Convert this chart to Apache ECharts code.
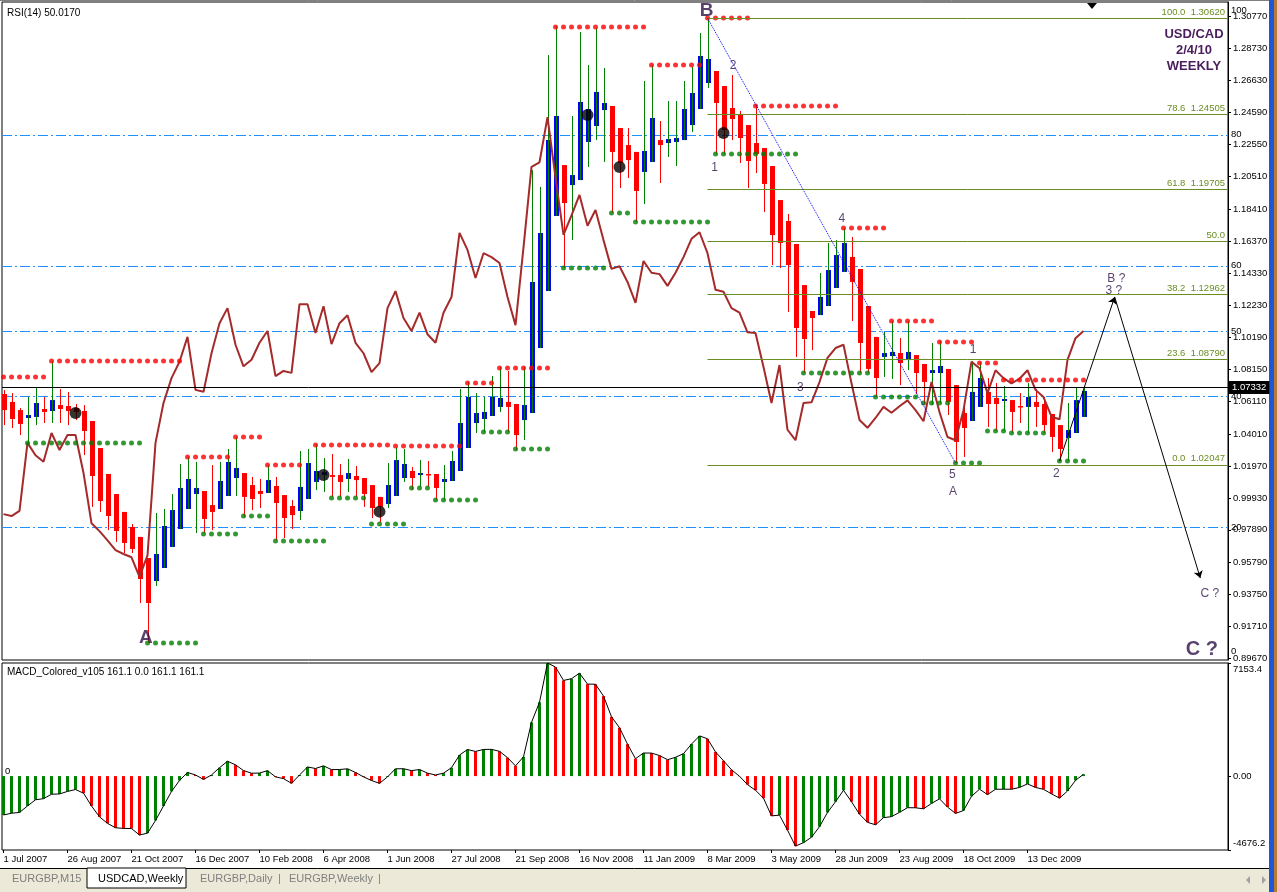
<!DOCTYPE html>
<html>
<head>
<meta charset="utf-8">
<title>USDCAD, Weekly</title>
<script src="https://cdn.jsdelivr.net/npm/echarts@6/dist/echarts.min.js"></script>
<style>
  html, body { margin: 0; padding: 0; background: #fff; }
  #chart { width: 1277px; height: 892px; }
</style>
</head>
<body>
<div id="chart"></div>
<script>
// weekly bars, index 0 = week of 1 Jul 2007
const dateTicks = ['1 Jul 2007', '26 Aug 2007', '21 Oct 2007', '16 Dec 2007', '10 Feb 2008', '6 Apr 2008',
  '1 Jun 2008', '27 Jul 2008', '21 Sep 2008', '16 Nov 2008', '11 Jan 2009', '8 Mar 2009', '3 May 2009',
  '28 Jun 2009', '23 Aug 2009', '18 Oct 2009', '13 Dec 2009'];
const priceTicks = [1.30770, 1.28730, 1.26630, 1.24590, 1.22550, 1.20510, 1.18410, 1.16370, 1.14330, 1.12230,
  1.10190, 1.08150, 1.06110, 1.04010, 1.01970, 0.99930, 0.97890, 0.95790, 0.93750, 0.91710, 0.89670];
const rsiTicks = [0, 20, 40, 50, 60, 80, 100];
const rsiLevels = [20, 40, 50, 60, 80];
const macdTicks = [7153.4, 0, -4676.2];
const bid = 1.07332;

// open, high, low, close
const ohlc = [
  [1.0658, 1.0683, 1.0459, 1.0555], [1.0607, 1.0664, 1.0440, 1.0498], [1.0555, 1.0568, 1.0395, 1.0466],
  [1.0504, 1.0639, 1.0344, 1.0523], [1.0511, 1.0696, 1.0459, 1.0600], [1.0562, 1.0639, 1.0472, 1.0543],
  [1.0549, 1.0869, 1.0472, 1.0619], [1.0587, 1.0690, 1.0472, 1.0562], [1.0581, 1.0671, 1.0459, 1.0549],
  [1.0568, 1.0594, 1.0491, 1.0543], [1.0549, 1.0587, 1.0267, 1.0421], [1.0485, 1.0485, 0.9935, 1.0133],
  [1.0312, 1.0312, 0.9903, 0.9973], [1.0146, 1.0146, 0.9787, 0.9877], [1.0018, 1.0018, 0.9711, 0.9781],
  [0.9903, 0.9903, 0.9640, 0.9704], [0.9807, 0.9826, 0.9640, 0.9666], [0.9743, 0.9743, 0.9320, 0.9474],
  [0.9608, 0.9608, 0.9064, 0.9320], [0.9461, 0.9896, 0.9429, 0.9634], [0.9544, 0.9922, 0.9544, 0.9813],
  [0.9679, 1.0018, 0.9679, 0.9915], [0.9794, 1.0210, 0.9794, 1.0056], [0.9922, 1.0255, 0.9922, 1.0114],
  [1.0018, 1.0223, 0.9768, 1.0056], [1.0037, 1.0037, 0.9768, 0.9858], [0.9947, 1.0203, 0.9787, 0.9903],
  [0.9922, 1.0223, 0.9922, 1.0101], [1.0005, 1.0306, 1.0005, 1.0223], [1.0120, 1.0383, 1.0005, 1.0184],
  [1.0152, 1.0152, 0.9871, 0.9999], [1.0075, 1.0127, 0.9915, 0.9986], [1.0037, 1.0114, 0.9928, 1.0018],
  [1.0024, 1.0203, 1.0024, 1.0107], [1.0069, 1.0127, 0.9723, 0.9960], [1.0011, 1.0011, 0.9736, 0.9864],
  [0.9941, 0.9979, 0.9794, 0.9883], [0.9909, 1.0293, 0.9851, 1.0063], [0.9986, 1.0306, 0.9986, 1.0216],
  [1.0095, 1.0338, 1.0043, 1.0165], [1.0139, 1.0248, 1.0031, 1.0159], [1.0139, 1.0274, 0.9999, 1.0127],
  [1.0139, 1.0210, 0.9999, 1.0095], [1.0114, 1.0242, 1.0031, 1.0152], [1.0133, 1.0197, 0.9999, 1.0107],
  [1.0120, 1.0120, 0.9935, 1.0018], [1.0075, 1.0075, 0.9864, 0.9928], [0.9999, 0.9999, 0.9832, 0.9935],
  [0.9954, 1.0216, 0.9928, 1.0075], [1.0005, 1.0319, 1.0005, 1.0235], [1.0120, 1.0306, 1.0095, 1.0210],
  [1.0165, 1.0191, 1.0043, 1.0120], [1.0139, 1.0235, 1.0063, 1.0152], [1.0146, 1.0229, 1.0063, 1.0139],
  [1.0146, 1.0146, 0.9979, 1.0056], [1.0095, 1.0203, 0.9979, 1.0114], [1.0101, 1.0293, 1.0101, 1.0229],
  [1.0165, 1.0690, 1.0165, 1.0472], [1.0312, 1.0735, 1.0312, 1.0639], [1.0472, 1.0664, 1.0408, 1.0536],
  [1.0498, 1.0639, 1.0415, 1.0543], [1.0517, 1.0773, 1.0517, 1.0639], [1.0575, 1.0831, 1.0543, 1.0632],
  [1.0607, 1.0805, 1.0415, 1.0575], [1.0594, 1.0594, 1.0299, 1.0395], [1.0491, 1.0831, 1.0363, 1.0587],
  [1.0536, 1.2091, 1.0536, 1.1375], [1.0952, 1.1983, 1.0952, 1.1688], [1.1317, 1.2827, 1.1317, 1.2283],
  [1.1797, 1.3013, 1.1797, 1.2437], [1.2123, 1.2123, 1.1464, 1.1880], [1.1995, 1.2437, 1.1643, 1.2059],
  [1.2027, 1.2975, 1.2027, 1.2527], [1.2271, 1.2763, 1.2111, 1.2482], [1.2373, 1.3000, 1.2283, 1.2591],
  [1.2475, 1.2744, 1.2143, 1.2520], [1.2501, 1.2501, 1.1816, 1.2207], [1.2360, 1.2360, 1.1976, 1.2136],
  [1.2251, 1.2360, 1.2040, 1.2155], [1.2207, 1.2207, 1.1759, 1.1957], [1.2079, 1.2661, 1.1874, 1.2213],
  [1.2143, 1.2763, 1.2143, 1.2424], [1.2283, 1.2405, 1.2008, 1.2251], [1.2264, 1.2533, 1.2175, 1.2290],
  [1.2271, 1.2533, 1.2117, 1.2296], [1.2283, 1.2661, 1.2283, 1.2482], [1.2379, 1.2751, 1.2335, 1.2584],
  [1.2482, 1.2968, 1.2482, 1.2821], [1.2648, 1.3064, 1.2616, 1.2802], [1.2725, 1.2725, 1.2194, 1.2520],
  [1.2629, 1.2629, 1.2194, 1.2347], [1.2488, 1.2699, 1.2283, 1.2418], [1.2450, 1.2469, 1.2136, 1.2296],
  [1.2379, 1.2379, 1.1976, 1.2149], [1.2264, 1.2507, 1.2072, 1.2194], [1.2232, 1.2232, 1.1823, 1.2002],
  [1.2117, 1.2117, 1.1483, 1.1675], [1.1899, 1.1899, 1.1464, 1.1624], [1.1765, 1.1810, 1.1183, 1.1483],
  [1.1618, 1.1618, 1.0895, 1.1080], [1.1355, 1.1355, 1.0792, 1.1010], [1.1189, 1.1189, 1.0939, 1.1144],
  [1.1163, 1.1432, 1.1163, 1.1279], [1.1221, 1.1624, 1.1221, 1.1451], [1.1336, 1.1643, 1.1336, 1.1547],
  [1.1439, 1.1720, 1.1439, 1.1624], [1.1535, 1.1663, 1.1125, 1.1375], [1.1458, 1.1458, 1.0792, 1.0984],
  [1.1221, 1.1221, 1.0792, 1.0818], [1.1023, 1.1023, 1.0639, 1.0760], [1.0895, 1.1055, 1.0767, 1.0920],
  [1.0901, 1.1125, 1.0754, 1.0927], [1.0920, 1.1016, 1.0715, 1.0856], [1.0875, 1.1125, 1.0811, 1.0927],
  [1.0907, 1.0907, 1.0658, 1.0792], [1.0850, 1.0850, 1.0587, 1.0735], [1.0792, 1.0984, 1.0587, 1.0811],
  [1.0792, 1.0997, 1.0600, 1.0837], [1.0818, 1.0818, 1.0523, 1.0607], [1.0715, 1.0715, 1.0216, 1.0351],
  [1.0536, 1.0600, 1.0255, 1.0440], [1.0485, 1.0869, 1.0485, 1.0671], [1.0575, 1.0863, 1.0575, 1.0760],
  [1.0671, 1.0760, 1.0447, 1.0594], [1.0632, 1.0728, 1.0421, 1.0594], [1.0613, 1.0709, 1.0421, 1.0626],
  [1.0619, 1.0619, 1.0408, 1.0543], [1.0581, 1.0664, 1.0472, 1.0575], [1.0575, 1.0728, 1.0408, 1.0639],
  [1.0607, 1.0690, 1.0447, 1.0575], [1.0594, 1.0639, 1.0408, 1.0459], [1.0530, 1.0530, 1.0287, 1.0383],
  [1.0459, 1.0459, 1.0229, 1.0306], [1.0376, 1.0600, 1.0229, 1.0427], [1.0408, 1.0703, 1.0408, 1.0619],
  [1.0511, 1.0709, 1.0511, 1.0677]
];

const rsi = [
  22.0, 21.7, 22.5, 32.9, 31.0, 30.0, 34.4, 31.8, 34.1, 34.1, 28.3, 20.6, 19.4, 18.0, 16.5, 15.9, 15.4, 12.4,
  15.7, 32.9, 39.0, 42.8, 45.3, 49.1, 41.0, 40.7, 46.6, 51.2, 53.5, 47.9, 44.6, 45.6, 48.2, 50.0, 43.1, 43.9,
  43.6, 54.1, 54.1, 49.7, 53.8, 48.0, 51.2, 52.4, 48.2, 46.6, 43.7, 45.1, 53.5, 56.1, 52.0, 50.0, 52.8, 49.5,
  48.2, 52.8, 55.2, 65.0, 62.4, 58.1, 61.9, 61.3, 60.4, 55.2, 50.9, 62.8, 75.1, 75.8, 82.7, 73.5, 64.7, 67.7,
  70.8, 66.1, 68.5, 63.9, 59.5, 59.9, 57.5, 54.3, 60.7, 58.9, 58.7, 56.9, 58.9, 61.3, 64.1, 65.1, 61.9, 56.3,
  56.0, 53.5, 52.8, 49.8, 49.7, 44.5, 39.0, 44.8, 34.9, 33.3, 39.0, 39.1, 42.2, 45.9, 47.4, 47.9, 42.0, 36.4,
  35.2, 36.7, 38.4, 37.5, 38.5, 39.4, 37.9, 36.2, 42.2, 37.6, 33.8, 33.3, 37.9, 45.3, 44.3, 40.5, 44.0, 42.8,
  42.0, 42.7, 44.0, 41.0, 39.9, 36.9, 36.5, 45.6, 48.9, 50.0
];

const macd = [
  -2460, -2350, -2300, -1890, -1500, -1430, -1150, -1130, -970, -850, -1080, -1890, -2580, -2990, -3270, -3310,
  -3320, -3730, -3610, -2810, -1890, -970, -280, 230, 70, -210, 70, 530, 940, 710, 350, 180, 190, 345, -50, -160,
  -460, 70, 575, 480, 645, 410, 415, 460, 230, -50, -280, -460, -50, 460, 465, 345, 415, 185, 70, 185, 530, 1330,
  1680, 1560, 1685, 1690, 1565, 1170, 645, 1220, 3400, 4670, 7150, 6900, 6050, 6160, 6510, 5820, 5810, 5060,
  3750, 3060, 2020, 1100, 1460, 1455, 1300, 1035, 1190, 1420, 2025, 2540, 2360, 1530, 970, 400, -10, -540, -900,
  -1400, -2520, -2470, -3420, -4430, -4210, -3870, -3200, -2300, -1620, -900, -1620, -2410, -2925, -3080, -2630,
  -2565, -2295, -2000, -2005, -2070, -1730, -1440, -1960, -2360, -2180, -1280, -830, -1170, -835, -830, -832,
  -720, -495, -720, -835, -1125, -1395, -945, -270, 113
];

// fractal levels: [first bar, last bar, price]
const resistance = [
  [0, 5, 1.0767], [6, 22, 1.0869], [23, 28, 1.0255], [29, 32, 1.0383], [33, 37, 1.0203], [39, 48, 1.0331],
  [49, 57, 1.0325], [58, 61, 1.0728], [62, 68, 1.0824], [69, 80, 1.3007], [81, 87, 1.2763], [88, 93, 1.3064],
  [94, 104, 1.2501], [105, 110, 1.1720], [111, 116, 1.1125], [117, 121, 1.0991], [122, 124, 1.0856],
  [125, 135, 1.0748]
];
const support = [
  [3, 17, 1.0344], [18, 24, 0.9064], [25, 29, 0.9762], [30, 33, 0.9877], [34, 40, 0.9717], [41, 45, 0.9992],
  [46, 50, 0.9826], [51, 53, 1.0056], [54, 59, 0.9979], [60, 63, 1.0415], [64, 68, 1.0306], [70, 75, 1.1464],
  [76, 78, 1.1816], [79, 88, 1.1759], [89, 99, 1.2194], [100, 108, 1.0792], [109, 114, 1.0639],
  [115, 118, 1.0600], [119, 122, 1.0216], [123, 125, 1.0421], [126, 130, 1.0408], [132, 135, 1.0229]
];
const pivots = [[9, 1.0536], [40, 1.0139], [47, 0.9905], [73, 1.2443], [77, 1.2111], [90, 1.2328]];

const fibStart = 88;
const fibLevels = [['100.0', 1.30620], ['78.6', 1.24505], ['61.8', 1.19705], ['50.0', 1.16334],
  ['38.2', 1.12962], ['23.6', 1.08790], ['0.0', 1.02047]];
// wave B -> 5 and projected path
const waveLine = [[88, 1.3064], [119, 1.0216]];
const projection = [[132, 1.0229], [138.9, 1.1279], [149.6, 0.9480]];

// text, bar, price, size, bold
const waveNotes = [
  ['B', 87.9, 1.3112, 19, true], ['A', 17.8, 0.9095, 19, true], ['2', 91.2, 1.2757, 12, false],
  ['1', 88.9, 1.2104, 12, false], ['4', 104.8, 1.1778, 12, false], ['3', 99.6, 1.0696, 12, false],
  ['5', 118.6, 1.0139, 12, false], ['A', 118.7, 1.0031, 12, false], ['1', 121.2, 1.0939, 12, false],
  ['2', 131.6, 1.0146, 12, false], ['B ?', 139.1, 1.1394, 12, false], ['3 ?', 138.8, 1.1317, 12, false],
  ['C ?', 150.8, 0.9378, 12, false], ['C ?', 149.8, 0.9022, 20, true]
];

const FONT = 'Liberation Sans';
const NOTE_COLOR = '#2e1148';
const X_MIN = -0.1875, X_MAX = 153.0625;

function dots(segs) {
  let out = [];
  segs.forEach(([a, b, p]) => {
    for (let j = a; j <= b; j++) out.push([j, p]);
  });
  return out;
}

function renderCandle(params, api) {
  let i = api.value(0), o = api.value(1), h = api.value(2), l = api.value(3), c = api.value(4);
  let pO = api.coord([i, o]), pC = api.coord([i, c]);
  let pH = api.coord([i, h]), pL = api.coord([i, l]);
  let up = c >= o;
  let x = Math.round(pO[0]) + 0.5;
  let top = Math.min(pO[1], pC[1]), bot = Math.max(pO[1], pC[1]);
  if (bot - top < 1.5) bot = top + 1.5;
  return {
    type: 'group',
    children: [
      { type: 'rect', shape: { x: x - 2.5, y: top, width: 5, height: bot - top },
        style: { fill: up ? '#0000ff' : '#ff0000' } },
      { type: 'line', shape: { x1: x, y1: pH[1], x2: x, y2: pL[1] },
        style: { stroke: up ? '#008000' : '#ff0000', lineWidth: 1 } }
    ]
  };
}

// full-width dash-dot level line snapped to the pixel grid
function renderLevel(params, api) {
  let cs = params.coordSys;
  let y = Math.round(api.coord([api.value(0), api.value(1)])[1]) + 0.5;
  return {
    type: 'line',
    shape: { x1: cs.x, y1: y, x2: cs.x + cs.width, y2: y },
    style: { stroke: '#1e90ff', lineWidth: 1, lineDash: [10, 3, 2, 3] }
  };
}

// push the end labels of an axis inside the panel
const edgeRich = {
  dn: { padding: [13, 0, 0, 0], fontSize: 9.5, fontFamily: FONT, color: '#000' },
  up: { padding: [0, 0, 13, 0], fontSize: 9.5, fontFamily: FONT, color: '#000' }
};

var chart = echarts.init(document.getElementById('chart'));

let xBase = {
  type: 'value', min: X_MIN, max: X_MAX,
  axisLine: { show: false, onZero: false }, axisTick: { show: false }, axisLabel: { show: false },
  splitLine: { show: false }
};

let option = {
  animation: false,
  backgroundColor: '#fff',
  textStyle: { fontFamily: FONT },
  grid: [
    { left: 2, top: 2, width: 1226, height: 658, show: true, borderColor: '#000', borderWidth: 1 },
    { left: 2, top: 663, width: 1226, height: 187, show: true, borderColor: '#000', borderWidth: 1 }
  ],
  xAxis: [
    Object.assign({}, xBase, { gridIndex: 0 }),
    Object.assign({}, xBase, {
      gridIndex: 1,
      axisTick: { show: true, length: 3, lineStyle: { color: '#000' },
        customValues: dateTicks.map((d, k) => k * 8) },
      axisLabel: {
        show: true, align: 'left', margin: 4, fontSize: 9.5, color: '#000', fontFamily: FONT,
        customValues: dateTicks.map((d, k) => k * 8),
        formatter: (v) => dateTicks[Math.round(v / 8)] || ''
      }
    })
  ],
  yAxis: [
    {
      gridIndex: 0, type: 'value', position: 'right', min: 0.89554, max: 1.31666,
      axisLine: { show: true, onZero: false, lineStyle: { color: '#000' } },
      axisTick: { show: true, length: 3, lineStyle: { color: '#000' }, customValues: priceTicks },
      axisLabel: { margin: 5, fontSize: 9.5, color: '#000', fontFamily: FONT, customValues: priceTicks,
        formatter: (v) => v.toFixed(5) },
      splitLine: { show: false }
    },
    {
      gridIndex: 0, type: 'value', position: 'right', min: -0.306, max: 100.31,
      axisLine: { show: false, onZero: false }, axisTick: { show: false }, splitLine: { show: false },
      axisLabel: { margin: 3, fontSize: 9.5, color: '#000', fontFamily: FONT, customValues: rsiTicks,
        rich: edgeRich,
        formatter: (v) => (v === 100 ? '{dn|100}' : v === 0 ? '{up|0}' : String(v)) }
    },
    {
      gridIndex: 1, type: 'value', position: 'right', min: -4676.2, max: 7153.4,
      axisLine: { show: true, onZero: false, lineStyle: { color: '#000' } },
      axisTick: { show: true, length: 3, lineStyle: { color: '#000' }, customValues: macdTicks },
      splitLine: { show: false },
      axisLabel: { margin: 5, fontSize: 9.5, color: '#000', fontFamily: FONT, customValues: macdTicks,
        rich: edgeRich,
        formatter: (v) => (v === 0 ? '0.00' : v > 0 ? '{dn|' + v.toFixed(1) + '}' : '{up|' + v.toFixed(1) + '}') }
    },
    {
      gridIndex: 1, type: 'value', position: 'left', min: -4676.2, max: 7153.4,
      axisLine: { show: false, onZero: false }, axisTick: { show: false }, splitLine: { show: false },
      axisLabel: { inside: true, margin: 3, fontSize: 9.5, color: '#000', fontFamily: FONT,
        customValues: [0], verticalAlign: 'bottom' }
    }
  ],
  series: [
    {
      // RSI level lines
      type: 'custom', xAxisIndex: 0, yAxisIndex: 1, z: 1, silent: true,
      renderItem: renderLevel, encode: { x: 0, y: 1 },
      data: rsiLevels.map((v) => [0, v])
    },
    {
      // fibonacci retracement + bid line
      type: 'line', xAxisIndex: 0, yAxisIndex: 0, z: 1, silent: true, symbol: 'none',
      data: ohlc.map((d, i) => [i, d[3]]), lineStyle: { opacity: 0 },
      markLine: {
        silent: true, symbol: ['none', 'none'],
        data: fibLevels.map(([lvl, p]) => {
          let lab = {
            show: true, position: 'insideEndTop', distance: [3, 1], color: '#6b8e23', fontSize: 9.5,
            fontFamily: FONT, formatter: lvl === '50.0' ? lvl : lvl + '  ' + p.toFixed(5)
          };
          let ls = { color: '#6b8e23', type: 'solid', width: 1 };
          return [{ coord: [fibStart, p], label: lab, lineStyle: ls }, { coord: [X_MAX, p], label: lab, lineStyle: ls }];
        }).concat([{
          yAxis: bid, lineStyle: { color: '#000', type: 'solid', width: 1 },
          label: { show: true, position: 'end', distance: 1, formatter: bid.toFixed(5), color: '#fff',
            backgroundColor: '#000', padding: [2, 3, 1, 3], fontSize: 9.5, fontFamily: FONT }
        }])
      }
    },
    {
      name: 'USDCAD', type: 'custom', xAxisIndex: 0, yAxisIndex: 0, z: 2, clip: true, silent: true,
      renderItem: renderCandle,
      encode: { x: 0, y: [1, 2, 3, 4] },
      data: ohlc.map((d, i) => [i, d[0], d[1], d[2], d[3]])
    },
    {
      name: 'RSI(14)', type: 'line', xAxisIndex: 0, yAxisIndex: 1, z: 3, silent: true, symbol: 'none',
      data: rsi.map((v, i) => [i, v]), lineStyle: { color: '#a52a2a', width: 2 }
    },
    {
      type: 'scatter', xAxisIndex: 0, yAxisIndex: 0, z: 4, silent: true, symbol: 'circle', symbolSize: 5,
      itemStyle: { color: '#ff0000' }, data: dots(resistance)
    },
    {
      type: 'scatter', xAxisIndex: 0, yAxisIndex: 0, z: 4, silent: true, symbol: 'circle', symbolSize: 5,
      itemStyle: { color: '#008000' }, data: dots(support)
    },
    {
      type: 'scatter', xAxisIndex: 0, yAxisIndex: 0, z: 5, silent: true, symbol: 'circle', symbolSize: 12,
      itemStyle: { color: '#000' }, data: pivots
    },
    {
      // wave line and projection arrows
      type: 'line', xAxisIndex: 0, yAxisIndex: 0, z: 5, silent: true, symbol: 'none',
      data: [], lineStyle: { opacity: 0 },
      markLine: {
        silent: true, label: { show: false }, symbol: ['none', 'none'],
        data: [
          [{ coord: waveLine[0], lineStyle: { color: '#0000ff', type: 'dotted', width: 1 } },
           { coord: waveLine[1] }],
          [{ coord: projection[0], symbol: 'none', lineStyle: { color: '#000', type: 'solid', width: 1 } },
           { coord: projection[1], symbol: 'arrow', symbolSize: 7 }],
          [{ coord: projection[1], symbol: 'none', lineStyle: { color: '#000', type: 'solid', width: 1 } },
           { coord: projection[2], symbol: 'arrow', symbolSize: 7 }]
        ]
      }
    },
    {
      type: 'scatter', xAxisIndex: 0, yAxisIndex: 0, z: 6, silent: true, symbolSize: 1,
      itemStyle: { color: 'transparent' },
      data: waveNotes.map(([t, x, y, s, b]) => ({
        value: [x, y],
        label: { show: true, position: 'inside', formatter: t, fontSize: s, fontWeight: b ? 'bold' : 'normal',
          color: NOTE_COLOR, fontFamily: FONT }
      }))
    },
    {
      name: 'MACD', type: 'bar', xAxisIndex: 1, yAxisIndex: 2, z: 2, silent: true, barWidth: 3,
      data: macd.map((v, i) => ({
        value: [i, v],
        itemStyle: { color: (i === 0 || v >= macd[i - 1]) ? '#008000' : '#ff0000' }
      }))
    },
    {
      type: 'line', xAxisIndex: 1, yAxisIndex: 2, z: 3, silent: true, symbol: 'none',
      data: macd.map((v, i) => [i, v]), lineStyle: { color: '#000', width: 1 }
    }
  ],
  graphic: [
    { type: 'text', x: 7, y: 8, style: { text: 'RSI(14) 50.0170', fontSize: 10, fontFamily: FONT, fill: '#000' } },
    { type: 'text', x: 7, y: 667, style: { text: 'MACD_Colored_v105 161.1 0.0 161.1 161.1', fontSize: 10, fontFamily: FONT, fill: '#000' } },
    { type: 'text', x: 1194, y: 26, style: { text: 'USD/CAD\n2/4/10\nWEEKLY', align: 'center', lineHeight: 16, fontSize: 13,
      fontWeight: 'bold', fontFamily: FONT, fill: '#4a1e5c' } },
    { type: 'polygon', shape: { points: [[1087, 3], [1097, 3], [1092, 9]] }, style: { fill: '#000' } },
    { type: 'line', shape: { x1: 0, y1: 0.5, x2: 1269, y2: 0.5 }, style: { stroke: '#808080', lineWidth: 1 } },
    // window edge
    { type: 'rect', shape: { x: 1269, y: 0, width: 5, height: 892 }, style: { fill: '#1d56d8' } },
    { type: 'rect', shape: { x: 1274, y: 0, width: 3, height: 892 }, style: { fill: '#b97a33' } },
    // tab bar
    { type: 'rect', shape: { x: 0, y: 868, width: 1269, height: 24 }, style: { fill: '#ece9d8' } },
    { type: 'line', shape: { x1: 0, y1: 868.5, x2: 1269, y2: 868.5 }, style: { stroke: '#000', lineWidth: 1 } },
    { type: 'rect', shape: { x: 87, y: 868, width: 99, height: 20 }, style: { fill: '#fff', stroke: '#000', lineWidth: 1 } },
    { type: 'text', x: 12, y: 873, style: { text: 'EURGBP,M15', fontSize: 11, fontFamily: FONT, fill: '#7f7f7f' } },
    { type: 'text', x: 98, y: 873, style: { text: 'USDCAD,Weekly', fontSize: 11, fontFamily: FONT, fill: '#000' } },
    { type: 'text', x: 200, y: 873, style: { text: 'EURGBP,Daily', fontSize: 11, fontFamily: FONT, fill: '#7f7f7f' } },
    { type: 'text', x: 278, y: 873, style: { text: '|', fontSize: 11, fontFamily: FONT, fill: '#7f7f7f' } },
    { type: 'text', x: 289, y: 873, style: { text: 'EURGBP,Weekly', fontSize: 11, fontFamily: FONT, fill: '#7f7f7f' } },
    { type: 'text', x: 378, y: 873, style: { text: '|', fontSize: 11, fontFamily: FONT, fill: '#7f7f7f' } },
    { type: 'polygon', shape: { points: [[1246, 880], [1250, 876], [1250, 884]] }, style: { fill: '#a0a0a0' } },
    { type: 'polygon', shape: { points: [[1262, 876], [1266, 880], [1262, 884]] }, style: { fill: '#a0a0a0' } }
  ]
};

chart.setOption(option);
</script>
</body>
</html>
